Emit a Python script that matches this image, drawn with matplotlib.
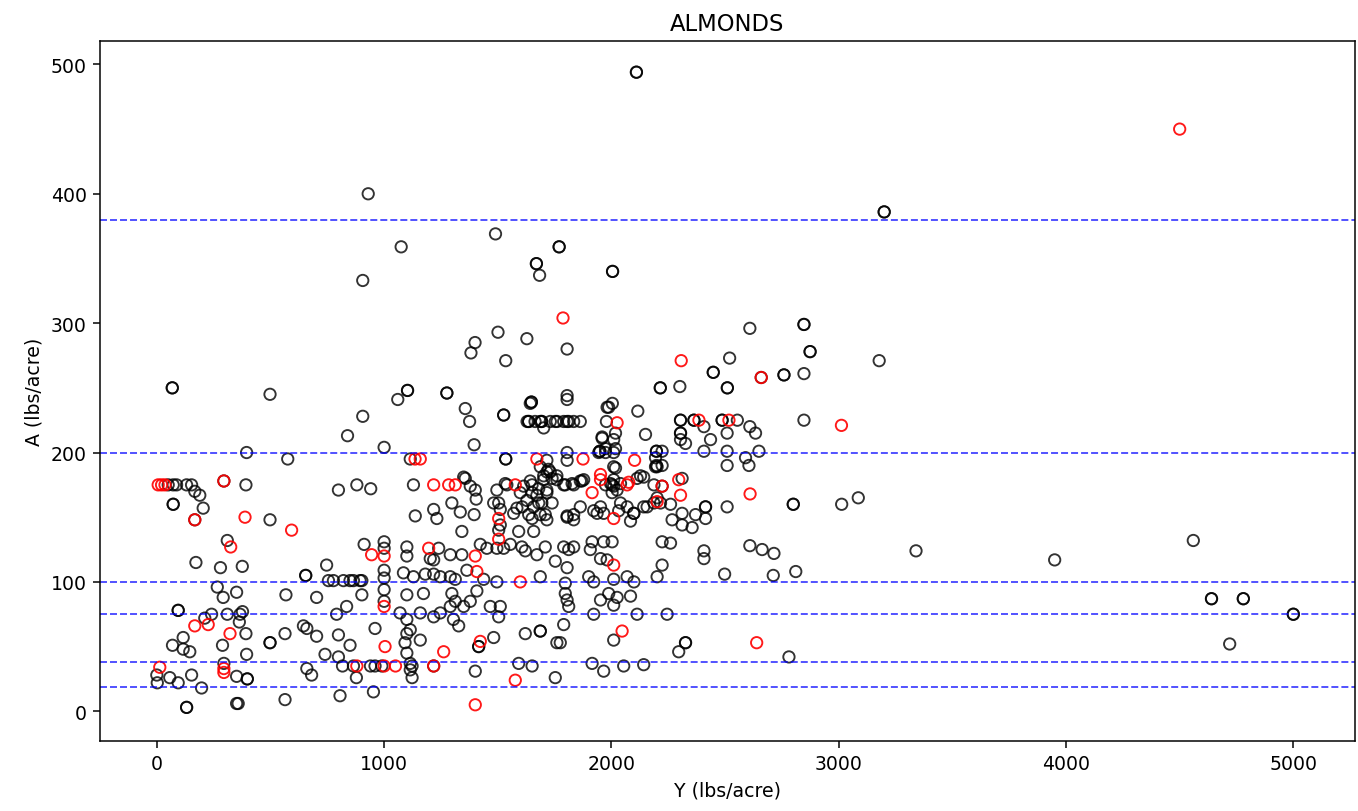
import matplotlib
matplotlib.use("Agg")
import matplotlib.pyplot as plt
import numpy as np

# (Y, A) pairs in lbs/acre
upper = [
    (2110, 494), (2110, 494), (930, 400), (3200, 386), (3200, 386), (1490, 369),
    (1075, 359), (1770, 359), (1770, 359), (906, 333), (1670, 346), (1670, 346),
    (1684, 337), (2005, 340), (2005, 340), (2609, 296), (1501, 293), (1628, 288),
    (1400, 285), (1382, 277), (1535, 271), (1805, 280), (2847, 299), (2847, 299),
    (2874, 278), (2874, 278), (3178, 271), (2520, 273), (2448, 262), (2448, 262),
    (2659, 258), (2759, 260), (2759, 260), (2847, 261), (2510, 250), (2510, 250),
    (2301, 251), (2215, 250), (2215, 250), (68, 250), (68, 250), (498, 245),
    (1276, 246), (1276, 246), (1103, 248), (1103, 248), (1060, 241), (1805, 244),
    (1648, 239), (1648, 239), (2004, 238), (1981, 235), (1357, 234), (1376, 224),
    (1526, 229), (1526, 229), (906, 228), (839, 213), (1000, 204), (395, 200),
    (576, 195), (2847, 225), (2116, 232), (2150, 214), (1396, 206),
]

band_200 = [
    (1636, 224), (1636, 224), (1664, 224), (1693, 224), (1693, 224), (1702, 219),
    (1753, 224), (1805, 224), (1834, 224), (1863, 224), (1978, 224), (2018, 215),
    (1959, 211), (2010, 210), (1949, 201), (1949, 201), (2198, 201), (2198, 201),
    (1535, 195), (1535, 195), (1115, 195), (1716, 194), (1723, 187), (1805, 200),
    (1805, 194), (2010, 179), (2018, 188), (2198, 190), (1350, 181),
    (2304, 225), (2304, 225), (2363, 225), (2363, 225), (2407, 220), (2436, 210),
    (2487, 225), (2487, 225), (2554, 225), (2509, 215), (2609, 220), (2634, 215),
    (2649, 201), (2590, 196), (2605, 190), (2509, 201), (2509, 190), (2407, 201),
    (2304, 215), (2304, 215), (2304, 210), (2326, 207), (2223, 201), (2223, 190),
    (1643, 238), (1805, 241), (1629, 224), (1687, 224), (1731, 224), (1761, 224),
    (1790, 224), (1812, 224), (1988, 235), (1959, 212), (1974, 203), (2018, 203),
    (1944, 200), (1974, 200), (2010, 200), (2010, 189), (2194, 196), (2194, 189),
    (1687, 189), (1731, 185), (1739, 180), (1702, 179), (1680, 172),
]

right = [
    (2311, 180), (2223, 174), (2509, 158), (2800, 160), (2800, 160), (3013, 160),
    (3086, 165), (2260, 160), (2311, 153), (2370, 152), (2414, 158), (2414, 158),
    (2414, 149), (2267, 148), (2311, 144), (2355, 142), (2223, 131), (2260, 130),
    (2407, 124), (2407, 118), (2609, 128), (2663, 125), (2715, 122), (2223, 113),
    (2498, 106), (2712, 105), (2811, 108), (3340, 124), (2245, 75), (2296, 46),
    (2326, 53), (2326, 53), (2781, 42),
    (4560, 132), (3950, 117), (4640, 87), (4640, 87), (4780, 87), (4780, 87),
    (5000, 75), (5000, 75), (4720, 52),
]

left = [
    (50, 175), (72, 175), (87, 175), (131, 175), (153, 175), (167, 170), (189, 167),
    (72, 160), (72, 160), (204, 157), (167, 148), (295, 178), (392, 175), (498, 148),
    (799, 171), (880, 175), (941, 172), (310, 132), (172, 115), (280, 111), (376, 112),
    (266, 96), (292, 88), (351, 92), (94, 78), (94, 78), (211, 72), (241, 75),
    (310, 75), (366, 75), (377, 77), (363, 69), (392, 60), (289, 51), (395, 44),
    (116, 57), (69, 51), (116, 48), (145, 46), (0, 28), (2, 22), (57, 26), (94, 22),
    (153, 28), (197, 18), (295, 37), (351, 27), (398, 25), (398, 25), (131, 3),
    (131, 3), (351, 6), (358, 6),
]

mid_low = [
    (568, 90), (655, 105), (655, 105), (747, 113), (703, 88), (755, 101), (777, 101),
    (821, 101), (850, 101), (865, 101), (894, 101), (902, 101), (902, 90), (835, 81),
    (791, 75), (564, 60), (498, 53), (498, 53), (645, 66), (660, 64), (703, 58),
    (740, 44), (799, 59), (850, 51), (799, 42), (660, 33), (681, 28), (817, 35),
    (865, 35), (878, 26), (806, 12), (953, 15), (564, 9), (1000, 131), (1000, 126),
    (912, 129), (1000, 85), (1000, 94), (1000, 103), (1000, 109), (960, 64),
    (940, 35), (960, 35), (990, 35), (1123, 35), (1123, 26),
]

center = [
    (1129, 175), (1357, 180), (1379, 174), (1401, 171), (1405, 164), (1540, 175),
    (1599, 169), (1651, 175), (1628, 163), (1672, 167), (1694, 161), (1716, 171),
    (1760, 182), (1702, 182), (1716, 185), (1797, 175), (1834, 175), (1870, 178),
    (1974, 175), (2003, 175), (2025, 171), (2128, 182), (2187, 175),
    (1533, 176), (1496, 171), (1614, 174), (1643, 178), (1651, 169), (1716, 169),
    (1760, 179), (1790, 175), (1827, 176), (1863, 178), (1878, 179), (1996, 176),
    (2010, 174), (2003, 169), (2040, 176), (2113, 180), (2142, 181), (2201, 165),
    (2201, 189),
    (1137, 151), (1218, 156), (1232, 149), (1298, 161), (1335, 154), (1396, 152),
    (1342, 139), (1504, 161), (1511, 156), (1504, 140), (1584, 157), (1592, 139),
    (1658, 139), (1651, 149), (1687, 152), (1716, 148), (1805, 151), (1834, 148),
    (1937, 153), (1966, 153), (2040, 161), (2099, 153), (2157, 158), (2084, 147),
    (2216, 161),
    (1482, 161), (1511, 144), (1570, 153), (1607, 158), (1636, 152), (1658, 158),
    (1680, 161), (1709, 152), (1739, 161), (1805, 150), (1834, 152), (1863, 158),
    (1922, 155), (1952, 158), (2032, 155), (2069, 158), (2098, 153), (2142, 158),
    (2187, 161),
    (1100, 127), (1100, 120), (1240, 126), (1203, 118), (1218, 117), (1291, 121),
    (1342, 121), (1423, 129), (1452, 126), (1496, 126), (1526, 126), (1555, 129),
    (1606, 127), (1621, 124), (1672, 121), (1709, 127), (1753, 116), (1790, 127),
    (1812, 125), (1834, 127), (1915, 131), (1907, 125), (1952, 118), (1966, 131),
    (2003, 131), (1981, 117), (1805, 111),
    (1085, 107), (1129, 104), (1181, 106), (1218, 106), (1247, 104), (1291, 104),
    (1313, 102), (1364, 109), (1438, 102), (1496, 100), (1687, 104), (1797, 99),
    (1900, 104), (1922, 100), (2010, 102), (2069, 104), (2099, 100), (2201, 104),
    (1100, 90), (1173, 91), (1298, 91), (1313, 85), (1291, 81), (1350, 81),
    (1379, 85), (1408, 93), (1467, 81), (1511, 81), (1504, 73), (1797, 91),
    (1805, 86), (1812, 81), (1952, 86), (1988, 91), (2025, 88), (2084, 89),
    (2010, 82), (2113, 75), (1922, 75),
    (1070, 76), (1100, 71), (1159, 76), (1115, 63), (1100, 60), (1092, 53),
    (1159, 55), (1218, 73), (1247, 76), (1305, 71), (1328, 66),
    (1218, 35), (1416, 50), (1416, 50), (1482, 57), (1401, 31), (1621, 60),
    (1687, 62), (1687, 62), (1760, 53), (1775, 53), (1790, 67), (1592, 37),
    (1651, 35), (1753, 26), (1915, 37), (1966, 31), (2054, 35), (2142, 36),
    (2010, 55), (1100, 45), (1115, 37), (1115, 32),
]

flagged = [
    (4500, 450), (1787, 304), (2307, 271), (3012, 221), (2025, 223), (2102, 194),
    (1875, 195), (1672, 195), (1136, 195), (1159, 195), (1952, 183), (2385, 225),
    (2517, 225), (2296, 179), (2304, 167), (2610, 168), (2639, 53), (2223, 174),
    (2659, 258), (2069, 175),
    (6, 175), (21, 175), (36, 175), (388, 150), (593, 140), (325, 127), (167, 66),
    (226, 67), (322, 60), (13, 34), (295, 33), (295, 30), (880, 35), (1000, 120),
    (945, 121), (1000, 81), (1004, 50), (167, 148), (295, 178), (1000, 35), (1050, 35),
    (1218, 175), (1284, 175), (1313, 175), (1577, 175), (1952, 179), (1915, 169),
    (2076, 177), (2201, 162), (1504, 149), (1504, 133), (2010, 149), (1196, 126),
    (1401, 120), (2010, 113), (1408, 108), (1599, 100), (1262, 46), (1218, 35),
    (1423, 54), (2047, 62), (1577, 24), (1401, 5),
]

thresholds = [380, 200, 100, 75, 38, 19]

black = np.array(upper + band_200 + right + left + mid_low + center)
red = np.array(flagged)

fig = plt.figure(figsize=(9.99, 5.97), dpi=136)
ax = fig.add_axes([0.0736, 0.0862, 0.9235, 0.862])

ax.scatter(black[:, 0], black[:, 1], s=36, facecolors="none",
           edgecolors="k", linewidths=1.0, alpha=0.8)
ax.scatter(red[:, 0], red[:, 1], s=36, facecolors="none",
           edgecolors="r", linewidths=1.0, alpha=0.9)

for t in thresholds:
    ax.axhline(t, color="b", linestyle="--", linewidth=1.0, alpha=0.7)

ax.set_xlim(-250, 5270)
ax.set_ylim(-23, 518)
ax.set_title("ALMONDS")
ax.set_xlabel("Y (lbs/acre)")
ax.set_ylabel("A (lbs/acre)")

fig.savefig("out.png", dpi=136)
